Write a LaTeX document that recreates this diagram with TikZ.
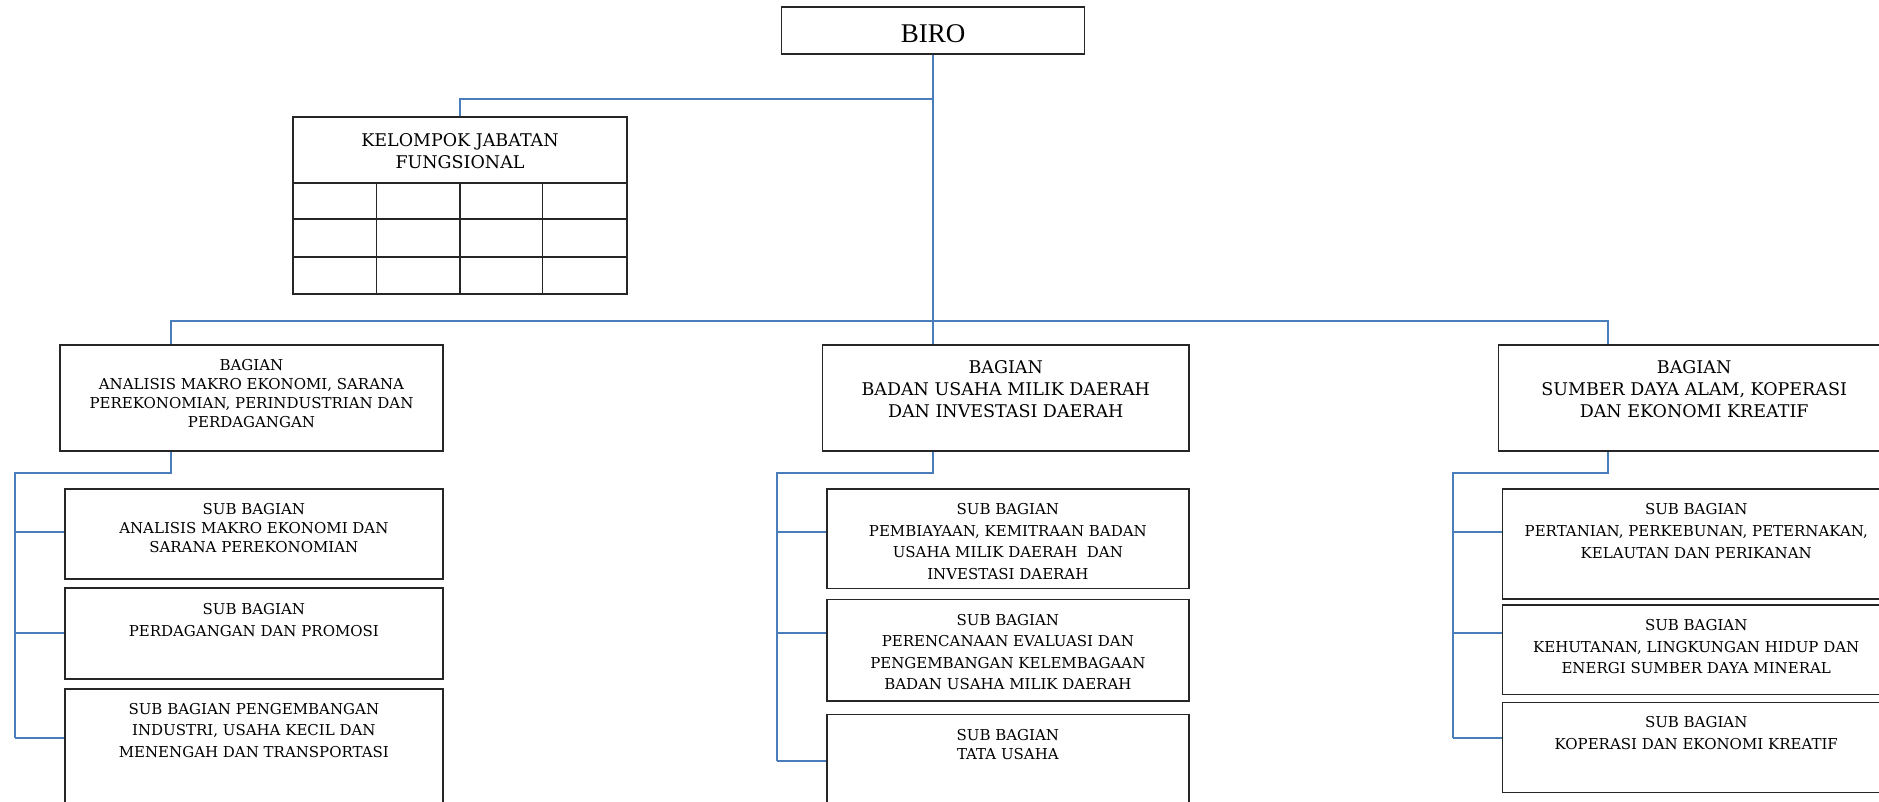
\documentclass[tikz,border=0pt]{standalone}
\usepackage{fontspec}
\setmainfont{DejaVu Serif}
\newfontfamily\birofont{Liberation Serif}
\usetikzlibrary{backgrounds}
\definecolor{connblue}{HTML}{4A7EBB}
\definecolor{boxline}{HTML}{262626}
\newcommand\otext[6]{\parbox[t][#2pt][t]{#1pt}{\centering\fontsize{#3pt}{#4pt}\selectfont\vspace*{#5pt}#6\par}}
\begin{document}
\begin{tikzpicture}[x=1pt,y=-1pt,
  orgbox/.style={draw=boxline,line width=1.6pt,inner sep=0pt,outer sep=0pt,anchor=north west,fill=white},
  conn/.style={draw=connblue,line width=2pt},
  gridline/.style={draw=boxline,line width=1.3pt}]
\useasboundingbox (0,0) rectangle (1879,801);
\clip (0,0) rectangle (1879,801);

% top
\node[orgbox] (biro) at (781.5,7) {\otext{303}{47}{27}{32}{17.8}{\birofont BIRO}};

% kelompok jabatan fungsional
\node[orgbox] (kjf) at (293,117) {\otext{334}{177}{17.5}{21.7}{16.6}{KELOMPOK JABATAN\\FUNGSIONAL}};
\draw[gridline] (293,183) -- (627,183);
\draw[gridline] (293,219) -- (627,219);
\draw[gridline] (293,257) -- (627,257);
\draw[gridline] (376.5,183) -- (376.5,294);
\draw[gridline] (460,183) -- (460,294);
\draw[gridline] (542.6,183) -- (542.6,294);

% bagian
\node[orgbox] (bl) at (60,344.7) {\otext{383}{106}{15}{19}{14.6}{BAGIAN\\ANALISIS MAKRO EKONOMI, SARANA\\PEREKONOMIAN, PERINDUSTRIAN DAN\\PERDAGANGAN}};
\node[orgbox] (bm) at (822.5,344.7) {\otext{366.5}{106}{17.5}{22}{15.6}{BAGIAN\\BADAN USAHA MILIK DAERAH\\DAN INVESTASI DAERAH}};
\node[orgbox] (br) at (1498.3,344.7) {\otext{391.7}{106}{17.5}{22}{15.6}{BAGIAN\\SUMBER DAYA ALAM, KOPERASI\\DAN EKONOMI KREATIF}};

% sub bagian left
\node[orgbox] (ls1) at (64.7,488.7) {\otext{378.3}{90}{15}{19}{14.9}{SUB BAGIAN\\ANALISIS MAKRO EKONOMI DAN\\SARANA PEREKONOMIAN}};
\node[orgbox] (ls2) at (64.7,588) {\otext{378.3}{90.7}{15}{22}{15.3}{SUB BAGIAN\\PERDAGANGAN DAN PROMOSI}};
\node[orgbox] (ls3) at (64.7,688.7) {\otext{378.3}{125}{15}{21.5}{14.6}{SUB BAGIAN PENGEMBANGAN\\INDUSTRI, USAHA KECIL DAN\\MENENGAH DAN TRANSPORTASI}};

% sub bagian middle
\node[orgbox] (ms1) at (826.7,488.7) {\otext{362.3}{99.6}{15}{21.5}{14.8}{SUB BAGIAN\\PEMBIAYAAN, KEMITRAAN BADAN\\USAHA MILIK DAERAH\ \ DAN\\INVESTASI DAERAH}};
\node[orgbox] (ms2) at (826.7,599.3) {\otext{362.3}{101.4}{15}{21.5}{15}{SUB BAGIAN\\PERENCANAAN EVALUASI DAN\\PENGEMBANGAN KELEMBAGAAN\\BADAN USAHA MILIK DAERAH}};
\node[orgbox] (ms3) at (826.7,714.3) {\otext{362.3}{100}{15}{19}{15}{SUB BAGIAN\\TATA USAHA}};

% sub bagian right
\node[orgbox] (rs1) at (1502.4,488.7) {\otext{387.6}{110.3}{15}{21.8}{14.8}{SUB BAGIAN\\PERTANIAN, PERKEBUNAN, PETERNAKAN,\\KELAUTAN DAN PERIKANAN}};
\node[orgbox] (rs2) at (1502.4,605) {\otext{387.6}{89.3}{15}{21.7}{14.3}{SUB BAGIAN\\KEHUTANAN, LINGKUNGAN HIDUP DAN\\ENERGI SUMBER DAYA MINERAL}};
\node[orgbox] (rs3) at (1502.4,702.3) {\otext{387.6}{90}{15}{21.7}{14.3}{SUB BAGIAN\\KOPERASI DAN EKONOMI KREATIF}};

% connector coordinates
\coordinate (xl) at (171,0);
\coordinate (xm) at (933,0);
\coordinate (xr) at (1608,0);
\coordinate (kjtee) at (933,99);
\coordinate (bus) at (933,320.7);
\coordinate (lrail) at (15,472.7);
\coordinate (lj1) at (15,532);
\coordinate (lj2) at (15,632.7);
\coordinate (lj3) at (15,738.3);
\coordinate (mrail) at (777.3,472.7);
\coordinate (mj1) at (777.3,532.3);
\coordinate (mj2) at (777.3,632.7);
\coordinate (mj3) at (777.3,760.7);
\coordinate (rrail) at (1452.5,472.7);
\coordinate (rj1) at (1452.5,532.3);
\coordinate (rj2) at (1452.5,632.7);
\coordinate (rj3) at (1452.5,738.3);

\begin{scope}[on background layer]
\draw[conn] (biro.south) -- (biro.south |- bm.north);
\draw[conn] (kjtee) -| (kjf.north);
\draw[conn] (xl |- bl.north) |- (bus) -| (xr |- br.north);
% left branch
\draw[conn] (xl |- bl.south) |- (lrail) -- (lj3);
\draw[conn] (lj1) -- (lj1 -| ls1.west);
\draw[conn] (lj2) -- (lj2 -| ls2.west);
\draw[conn] (lj3) -- (lj3 -| ls3.west);
% middle branch
\draw[conn] (xm |- bm.south) |- (mrail) -- (mj3);
\draw[conn] (mj1) -- (mj1 -| ms1.west);
\draw[conn] (mj2) -- (mj2 -| ms2.west);
\draw[conn] (mj3) -- (mj3 -| ms3.west);
% right branch
\draw[conn] (xr |- br.south) |- (rrail) -- (rj3);
\draw[conn] (rj1) -- (rj1 -| rs1.west);
\draw[conn] (rj2) -- (rj2 -| rs2.west);
\draw[conn] (rj3) -- (rj3 -| rs3.west);
\end{scope}
\end{tikzpicture}
\end{document}
